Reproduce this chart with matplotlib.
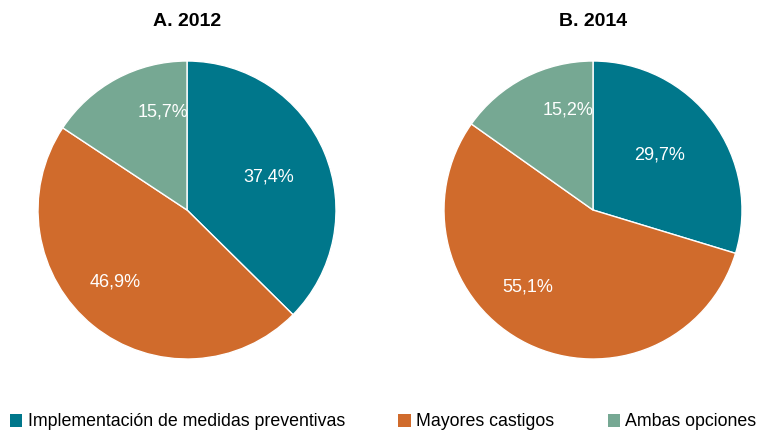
import matplotlib.pyplot as plt
from matplotlib.patches import Patch

plt.rcParams['font.family'] = ['Liberation Sans Narrow', 'Liberation Sans', 'DejaVu Sans']

categories = ['Implementación de medidas preventivas', 'Mayores castigos', 'Ambas opciones']
titles = ['A. 2012', 'B. 2014']
values_2012 = [37.4, 46.9, 15.7]
values_2014 = [29.7, 55.1, 15.2]
colors = ['#00778b', '#d06b2c', '#76a893']

# label positions (fraction of radius, x / y from centre), as in the original
label_pos = [
    [(0.55, 0.22), (-0.48, -0.48), (-0.16, 0.66)],
    [(0.45, 0.37), (-0.44, -0.52), (-0.17, 0.67)],
]

fig = plt.figure(figsize=(7.64, 4.33), dpi=100)

axes_rect = [
    [38 / 764, 74 / 433, 298 / 764, 298 / 433],
    [444 / 764, 74 / 433, 298 / 764, 298 / 433],
]

for i, vals in enumerate([values_2012, values_2014]):
    ax = fig.add_axes(axes_rect[i])
    wedges, _ = ax.pie(vals, colors=colors, startangle=90, counterclock=False,
                       wedgeprops=dict(edgecolor='white', linewidth=1))
    for v, (x, y) in zip(vals, label_pos[i]):
        ax.text(x, y, f'{v:.1f}%'.replace('.', ','), color='white',
                fontsize=13, ha='center', va='center')
    ax.set_xlim(-1, 1)
    ax.set_ylim(-1, 1)
    ax.set_aspect('equal')
    ax.set_title(titles[i], fontsize=14, fontweight='bold', pad=25)

handles = [Patch(facecolor=c, edgecolor='none') for c in colors]
fig.legend(handles, categories, loc='center left',
           bbox_to_anchor=(10 / 764, 11 / 433), borderaxespad=0, borderpad=0,
           ncol=3, frameon=False, fontsize=12.8, handlelength=0.7,
           handleheight=0.7, handletextpad=0.3, columnspacing=3.0)

fig.savefig('out.png', dpi=100)
